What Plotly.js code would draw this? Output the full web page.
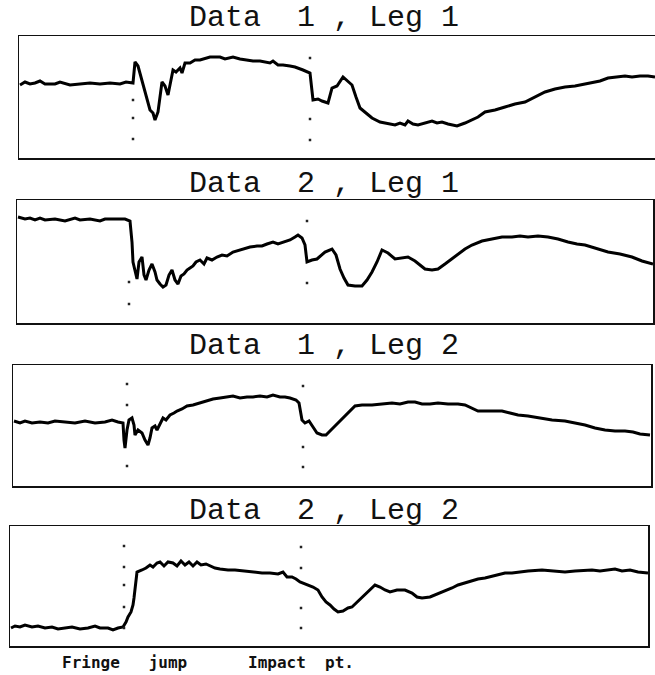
<!DOCTYPE html>
<html><head><meta charset="utf-8">
<script src="https://cdn.plot.ly/plotly-3.0.1.min.js"></script>
<style>body{margin:0;background:#fff}</style></head><body>
<div id="chart" style="width:655px;height:675px"></div>
<script>
// Panel titles
const titles = ["Data  1 , Leg 1", "Data  2 , Leg 1", "Data  1 , Leg 2", "Data  2 , Leg 2"];
const eventLabels = ["Fringe   jump", "Impact  pt."];

// Data 1, Leg 1 (time in samples, signal in arbitrary units)
const t1 = [1,6,11,16,21,26,36,41,51,61,71,81,91,101,107,114,116,119,123,128,131,134,136,139,141,143,146,149,151,154,157,161,163,166,171,176,181,191,201,206,214,221,234,241,251,254,259,264,271,276,284,288,291,294,299,303,309,313,318,324,329,333,337,341,347,353,361,369,376,381,386,389,394,399,406,413,418,423,429,438,446,453,459,466,476,486,496,506,516,526,536,546,556,566,573,581,589,596,606,613,621,629,636];
const v1 = [73,76,74,75,77,74,74,76,73,74,75,74,75,74,76,75,96,92,78,58,48,45,38,46,63,76,72,63,73,88,86,90,85,95,95,98,98,101,101,99,101,99,97,97,95,97,93,93,92,91,88,86,85,58,59,57,55,70,72,81,77,73,61,50,45,40,36,34,33,35,33,37,34,33,35,37,35,36,34,32,35,38,41,46,48,51,54,56,61,66,69,71,72,74,75,77,80,81,82,81,82,82,81];

// Data 2, Leg 1
const t2 = [1,8,13,18,23,28,38,48,58,63,73,83,88,98,108,113,115,116,118,120,122,125,127,129,132,135,138,140,143,146,149,152,155,158,161,164,167,170,173,176,179,183,187,190,195,200,205,210,216,223,228,233,240,245,250,256,261,266,273,278,281,285,288,290,295,300,304,308,315,319,323,327,331,338,345,350,355,360,365,371,378,385,391,398,408,415,421,428,435,441,448,455,465,475,485,495,503,511,521,531,541,551,560,568,578,591,603,615,625,636];
const v2 = [106,104,105,103,105,103,104,102,105,103,104,102,104,104,104,102,81,61,53,44,61,66,48,43,53,59,51,43,39,36,38,48,53,43,39,47,49,53,55,57,61,63,59,65,63,66,68,67,71,73,74,76,77,77,79,81,79,81,83,86,88,85,78,61,63,64,68,71,74,68,54,45,38,37,37,43,51,61,73,70,64,65,66,62,54,53,54,59,64,69,74,78,82,84,86,86,87,86,87,86,84,81,79,78,75,71,69,66,62,59];

// Data 1, Leg 2
const t3 = [1,7,12,19,27,35,42,52,62,72,82,92,99,105,110,111,112,114,116,119,121,122,125,129,132,135,137,139,142,144,147,150,153,157,161,164,169,174,180,187,194,200,207,214,220,227,234,240,247,254,260,267,272,277,283,286,289,292,296,300,304,309,313,318,322,327,332,337,342,349,359,369,379,387,395,402,409,417,425,435,445,452,459,465,477,489,497,505,515,527,539,552,562,572,582,592,602,612,620,627,637];
const v3 = [65,63,65,63,64,63,65,64,63,65,63,64,66,64,63,46,38,56,66,68,61,51,56,53,46,41,48,58,60,56,62,68,66,71,73,75,77,80,81,83,85,87,88,89,90,88,89,89,90,89,91,89,89,88,86,83,66,63,65,59,53,51,51,56,60,65,70,76,80,81,81,82,83,82,84,84,82,82,83,82,82,81,78,75,75,75,73,71,70,68,66,65,63,61,58,56,55,55,54,52,51];

// Data 2, Leg 2
const t4 = [1,5,10,15,22,28,35,42,48,55,62,70,78,85,90,98,103,108,113,116,118,121,123,124,125,126,127,132,136,140,143,147,150,154,158,163,167,171,175,179,183,187,191,196,201,205,210,218,225,235,243,252,260,268,273,277,282,286,290,296,303,308,312,316,320,324,328,333,338,342,348,355,360,365,370,375,380,387,395,402,407,412,420,428,435,442,448,455,462,468,475,482,488,495,502,508,518,532,545,555,565,575,582,590,598,605,612,620,628,638];
const v4 = [18,20,19,21,19,20,18,19,17,18,19,17,18,20,18,18,16,18,19,24,29,34,41,48,57,66,74,76,78,81,79,83,84,80,84,83,80,85,81,84,80,84,81,82,80,78,77,76,76,75,74,73,73,72,74,69,69,67,64,62,59,56,49,44,41,37,34,35,38,39,45,51,56,61,59,56,54,56,56,53,49,48,49,52,55,58,61,63,65,67,68,70,71,73,73,74,75,76,75,74,75,76,76,75,76,77,75,76,74,73];

// Vertical event markers (dotted lines): time position and visible dot levels per panel
const fringeT = [114, 112, 114, 114];
const impactT = [291, 290, 290, 291];
const fringeDots = [[19,40,58],[19,41],[20,81,102],[18,39,61,79,100]];
const impactDots = [[18,39,100],[40,102],[19,39,100],[18,38,78,99]];

const series = [[t1,v1],[t2,v2],[t3,v3],[t4,v4]];

// panel boxes in pixels: left, right, top, bottom ; axis ranges
const W = 655, H = 675;
const boxes = [
  {l:19, r:655, t:36,  b:158, xr:636, yr:122, titleY:18},
  {l:17, r:653, t:200, b:323, xr:636, yr:123, titleY:184},
  {l:13, r:651, t:365, b:486, xr:638, yr:121, titleY:346},
  {l:10, r:648, t:526, b:646, xr:638, yr:120, titleY:511}
];

const traces = [];
const layout = {
  width: W, height: H, margin: {l:0, r:0, t:0, b:0},
  paper_bgcolor: '#fff', plot_bgcolor: '#fff', showlegend: false,
  annotations: [], font: {family: 'Liberation Mono, DejaVu Sans Mono, monospace', color: '#111'}
};

boxes.forEach((bx, i) => {
  const k = i === 0 ? '' : String(i + 1);
  const xa = 'x' + k, ya = 'y' + k;
  traces.push({
    type: 'scatter', mode: 'lines', x: series[i][0], y: series[i][1],
    xaxis: xa, yaxis: ya, line: {color: '#000', width: 3, shape: 'linear'}, hoverinfo: 'skip'
  });
  traces.push({
    type: 'scatter', mode: 'markers',
    x: fringeDots[i].map(() => fringeT[i]).concat(impactDots[i].map(() => impactT[i])),
    y: fringeDots[i].concat(impactDots[i]),
    xaxis: xa, yaxis: ya, marker: {symbol: 'square', size: 2.5, color: '#222'}, hoverinfo: 'skip'
  });
  layout['xaxis' + k] = {
    domain: [bx.l / W, bx.r / W], range: [0, bx.xr], anchor: ya,
    showline: true, mirror: true, linecolor: '#111', linewidth: 1.5,
    showticklabels: false, ticks: '', showgrid: false, zeroline: false, fixedrange: true
  };
  layout['yaxis' + k] = {
    domain: [1 - bx.b / H, 1 - bx.t / H], range: [0, bx.yr], anchor: xa,
    showline: true, mirror: i !== 0, linecolor: '#111', linewidth: 1.5,
    showticklabels: false, ticks: '', showgrid: false, zeroline: false, fixedrange: true
  };
  layout.annotations.push({
    xref: 'paper', yref: 'paper', x: 324 / W, y: 1 - bx.titleY / H,
    xanchor: 'center', yanchor: 'middle', showarrow: false,
    text: titles[i].replace(/ /g, '\u00a0'),
    font: {family: 'Liberation Mono, DejaVu Sans Mono, monospace', size: 30, color: '#111'}
  });
});

// event labels under the bottom panel, centred on the event lines
[[fringeT[3], eventLabels[0]], [impactT[3], eventLabels[1]]].forEach(([tt, txt]) => {
  layout.annotations.push({
    xref: 'x4', yref: 'paper', x: tt, y: 1 - 662 / H,
    xanchor: 'center', yanchor: 'middle', showarrow: false,
    text: '<b>' + txt.replace(/ /g, '\u00a0') + '</b>',
    font: {family: 'DejaVu Sans Mono, monospace', size: 16, color: '#111'}
  });
});

Plotly.newPlot('chart', traces, layout, {staticPlot: true, displayModeBar: false});
</script>
</body></html>
